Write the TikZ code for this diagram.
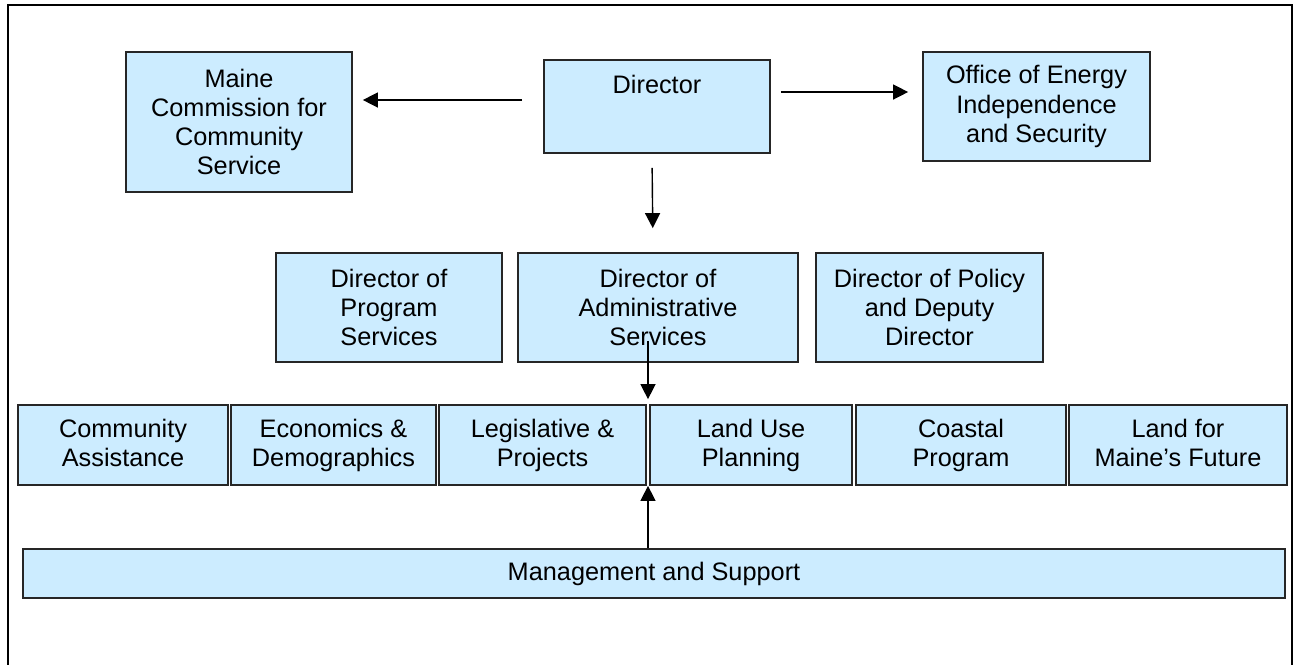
\documentclass[tikz,border=0pt]{standalone}
\usepackage{fontspec}
\setmainfont{Liberation Sans}
\usetikzlibrary{arrows.meta,calc,positioning}
\definecolor{boxblue}{RGB}{204,236,255}

\begin{document}
\begin{tikzpicture}[x=0.02cm, y=-0.02cm,
  every node/.style={font=\fontsize{14.4}{16.6}\selectfont, align=center},
  unit/.style={draw=black!85, line width=1pt, fill=boxblue, inner sep=0pt},
  prog/.style={unit, minimum height=1.6cm, text depth=0.1cm},
  arr/.style={line width=0.8pt, -{Triangle[length=0.3cm,width=0.3cm]}}]
  \useasboundingbox (0,0) rectangle (1296,664);
  % outer frame, open at the bottom
  \draw[line width=1.5pt] (8,700) -- (8,5) -- (1292,5) -- (1292,700);

  % top row
  \node[unit, minimum width=4.52cm, minimum height=2.8cm]  (mccs) at (239,122)    {Maine\\Commission for\\Community\\Service};
  \node[unit, minimum width=4.52cm, minimum height=1.86cm] (dir)  at (657,106.5)  {};
  \node (dirtext) at (657,84) {Director};
  \node[unit, minimum width=4.54cm, minimum height=2.18cm] (oeis) at (1036.5,106.5) {Office of Energy\\Independence\\and Security};

  % directors
  \node[unit, minimum width=4.52cm, minimum height=2.18cm] (dps) at (389,307.5) {Director of\\Program\\Services};
  \node[unit, minimum width=5.6cm,  minimum height=2.18cm] (das) at (658,307.5) {Director of\\Administrative\\Services};
  \node[unit, minimum width=4.54cm, minimum height=2.18cm] (dpd) at (929.5,307.5) {Director of Policy\\and Deputy\\Director};

  % programs
  \node[prog, minimum width=4.2cm]  (ca)  at (123,445)   {Community\\Assistance};
  \node[prog, minimum width=4.1cm]  (ed)  at (333.5,445) {Economics \&\\Demographics};
  \node[prog, minimum width=4.14cm] (lp)  at (542.5,445) {Legislative \&\\Projects};
  \node[prog, minimum width=4.04cm] (lup) at (751,445)   {Land Use\\Planning};
  \node[prog, minimum width=4.2cm]  (cp)  at (961,445)   {Coastal\\Program};
  \node[prog, minimum width=4.36cm] (lmf) at (1178,445)  {Land for\\Maine’s Future};

  \node[unit, minimum width=25.24cm, minimum height=0.98cm] (ms) at (654,573.5) {Management and Support};

  % connectors
  \draw[arr, shorten <=0.42cm, shorten >=0.2cm]  (dir.west |- 0,100) -- (mccs.east |- 0,100);
  \draw[arr, shorten <=0.2cm,  shorten >=0.28cm] (dir.east |- 0,92)  -- (oeis.west |- 0,92);
  \draw[arr, shorten <=0.28cm, shorten >=0.48cm] ([xshift=-0.1cm]dir.south) -- ([xshift=-0.1cm]das.north);
  \coordinate (gap) at ($(lp.north east)!0.5!(lup.north west)$);
  \draw[arr, shorten >=0.1cm] ([yshift=0.44cm]das.south -| gap) -- (gap);
  \draw[arr] (ms.north -| gap) -- (gap |- lp.south);
\end{tikzpicture}
\end{document}
